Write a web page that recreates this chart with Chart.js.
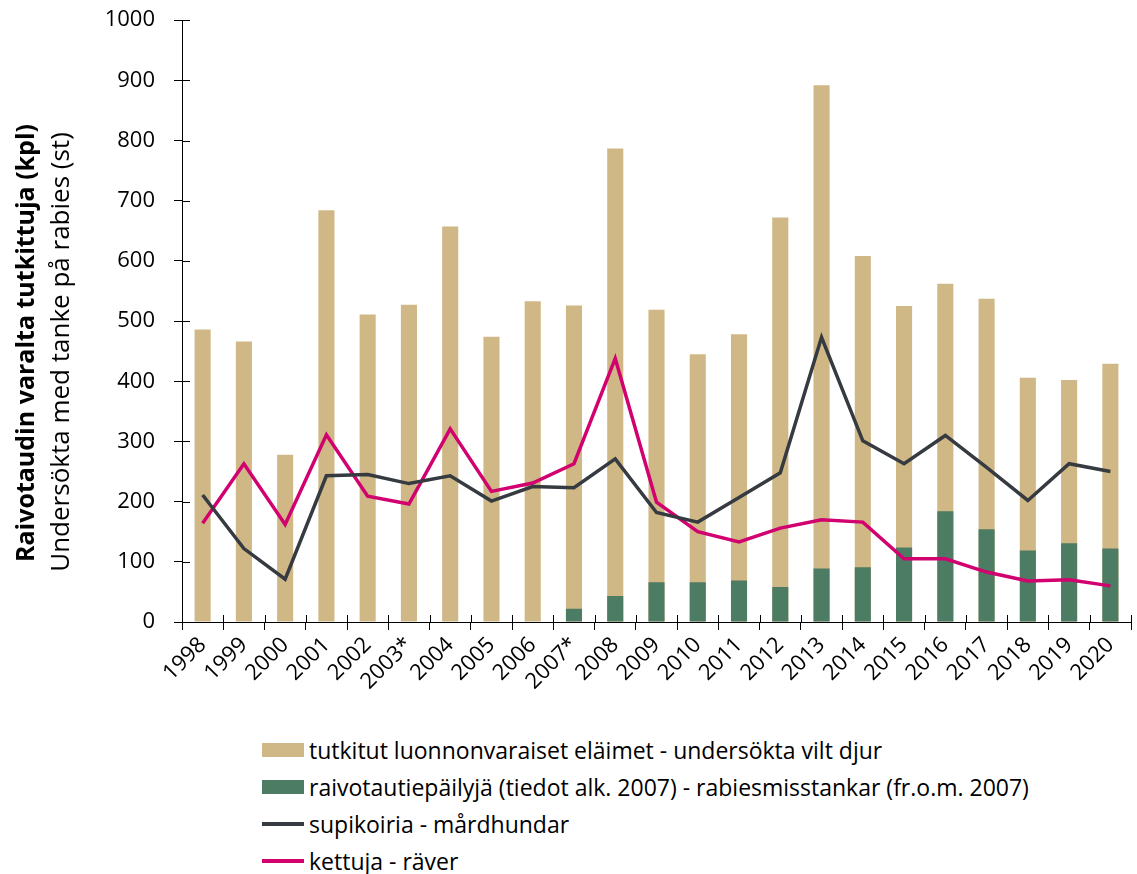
<!DOCTYPE html>
<html>
<head>
<meta charset="utf-8">
<script src="https://cdn.jsdelivr.net/npm/chart.js@4/dist/chart.umd.min.js"></script>
<style>
  body { margin: 0; background: #fff; }
  #wrap { position: absolute; left: 0; top: -12px; width: 1137px; height: 732px; }
  #legend { position: absolute; left: 262px; top: 731px; font-family: "Open Sans", sans-serif; font-size: 23px; color: #000; }
  .item { height: 37px; display: flex; align-items: center; }
  .box { width: 42px; margin-right: 5px; }
</style>
</head>
<body>
<div id="wrap"><canvas id="chart" width="1137" height="732"></canvas></div>
<div id="legend"></div>
<script>
"use strict";

const years = ['1998', '1999', '2000', '2001', '2002', '2003*', '2004', '2005', '2006', '2007*', '2008', '2009',
  '2010', '2011', '2012', '2013', '2014', '2015', '2016', '2017', '2018', '2019', '2020'];

// tutkitut luonnonvaraiset eläimet
const examined = [486, 466, 278, 684, 511, 527, 657, 474, 533, 526, 787, 519,
  445, 478, 672, 892, 608, 525, 562, 537, 406, 402, 429];

// raivotautiepäilyjä (from 2007)
const suspected = [null, null, null, null, null, null, null, null, null, 22, 43, 66,
  66, 69, 58, 89, 91, 124, 184, 154, 119, 131, 122];

// supikoiria
const raccoonDogs = [211, 122, 71, 243, 245, 230, 243, 201, 225, 223, 271, 182,
  166, 207, 248, 473, 301, 263, 310, 257, 202, 263, 250];

// kettuja
const foxes = [164, 263, 162, 311, 209, 196, 321, 217, 231, 263, 438, 199,
  150, 133, 156, 170, 166, 105, 105, 83, 68, 70, 60];

const yTicks = [0, 100, 200, 300, 400, 500, 600, 700, 800, 900, 1000];

const titleBold = 'Raivotaudin varalta tutkittuja (kpl)';
const titleNormal = 'Undersökta med tanke på rabies (st)';

const tickFont = { family: 'Open Sans', size: 22 };

// two-line y title, first line bold (canvas sits 12px higher than the page)
const yTitlePlugin = {
  id: 'yTitle',
  afterDraw(chart) {
    const ctx = chart.ctx;
    ctx.save();
    ctx.fillStyle = '#000';
    ctx.textAlign = 'center';
    ctx.textBaseline = 'middle';
    ctx.translate(27, 343 + 12);
    ctx.rotate(-Math.PI / 2);
    ctx.font = 'bold 25px "Open Sans"';
    ctx.fillText(titleBold, 0, 0);
    ctx.restore();
    ctx.save();
    ctx.fillStyle = '#000';
    ctx.textAlign = 'center';
    ctx.textBaseline = 'middle';
    ctx.translate(62, 352 + 12);
    ctx.rotate(-Math.PI / 2);
    ctx.font = '26px "Open Sans"';
    ctx.fillText(titleNormal, 0, 0);
    ctx.restore();
  }
};

// tick marks that cross the axis lines, like in the original
const innerTicks = {
  id: 'innerTicks',
  afterDatasetsDraw(chart) {
    const ctx = chart.ctx;
    const x = chart.scales.x;
    const y = chart.scales.y;
    const area = chart.chartArea;
    ctx.save();
    ctx.strokeStyle = '#000';
    ctx.lineWidth = 1;
    ctx.beginPath();
    y.ticks.forEach(function (t) {
      const py = Math.round(y.getPixelForValue(t.value)) + 0.5;
      ctx.moveTo(area.left, py);
      ctx.lineTo(area.left + 8, py);
    });
    for (let i = 0; i <= years.length; i++) {
      const px = Math.round(x.getPixelForTick(0) - (x.getPixelForTick(1) - x.getPixelForTick(0)) / 2 +
        i * (x.getPixelForTick(1) - x.getPixelForTick(0))) + 0.5;
      ctx.moveTo(px, area.bottom);
      ctx.lineTo(px, area.bottom - 7);
    }
    ctx.stroke();
    ctx.restore();
  }
};

const data = {
  labels: years,
  datasets: [
    {
      type: 'line',
      label: 'supikoiria - mårdhundar',
      data: raccoonDogs,
      borderColor: '#363b41',
      backgroundColor: '#363b41',
      borderWidth: 3.5,
      pointRadius: 0,
      tension: 0,
      order: 0
    },
    {
      type: 'line',
      label: 'kettuja - räver',
      data: foxes,
      borderColor: '#d1026f',
      backgroundColor: '#d1026f',
      borderWidth: 3.5,
      pointRadius: 0,
      tension: 0,
      order: 0
    },
    {
      type: 'bar',
      label: 'raivotautiepäilyjä (tiedot alk. 2007) - rabiesmisstankar (fr.o.m. 2007)',
      data: suspected,
      backgroundColor: '#4c7c63',
      categoryPercentage: 1,
      barPercentage: 0.39,
      order: 1
    },
    {
      type: 'bar',
      label: 'tutkitut luonnonvaraiset eläimet - undersökta vilt djur',
      data: examined,
      backgroundColor: '#cfb886',
      categoryPercentage: 1,
      barPercentage: 0.39,
      order: 2
    }
  ]
};

const config = {
  type: 'bar',
  data: data,
  plugins: [yTitlePlugin, innerTicks],
  options: {
    responsive: false,
    animation: false,
    layout: { padding: { left: 0, right: 6, top: 5, bottom: 0 } },
    plugins: {
      legend: { display: false },
      tooltip: { enabled: false }
    },
    scales: {
      x: {
        stacked: true,
        offset: true,
        grid: { offset: true, drawOnChartArea: false, tickLength: 8, color: '#000' },
        border: { color: '#000', width: 1 },
        ticks: { font: tickFont, color: '#000', minRotation: 45, maxRotation: 45, autoSkip: false, padding: 2 },
        afterFit(scale) { scale.height = 98; }
      },
      y: {
        stacked: false,
        min: 0,
        max: 1000,
        grid: { drawOnChartArea: false, tickLength: 8, color: '#000' },
        border: { color: '#000', width: 1 },
        afterBuildTicks(scale) { scale.ticks = yTicks.map(v => ({ value: v })); },
        ticks: { font: tickFont, color: '#000', padding: 19, callback: v => String(v) },
        afterFit(scale) { scale.width = 182; }
      }
    }
  }
};

const chart = new Chart(document.getElementById('chart'), config);

// legend in the same order as the original
const legendOrder = [3, 2, 0, 1];
const legendBox = document.getElementById('legend');
legendOrder.forEach(function (i) {
  const ds = chart.data.datasets[i];
  const row = document.createElement('div');
  row.className = 'item';
  const box = document.createElement('span');
  box.className = 'box';
  if (ds.type === 'bar') {
    box.style.height = '14px';
    box.style.background = ds.backgroundColor;
  } else {
    box.style.height = '4px';
    box.style.background = ds.borderColor;
  }
  const text = document.createElement('span');
  text.textContent = ds.label;
  row.appendChild(box);
  row.appendChild(text);
  legendBox.appendChild(row);
});
</script>
</body>
</html>
